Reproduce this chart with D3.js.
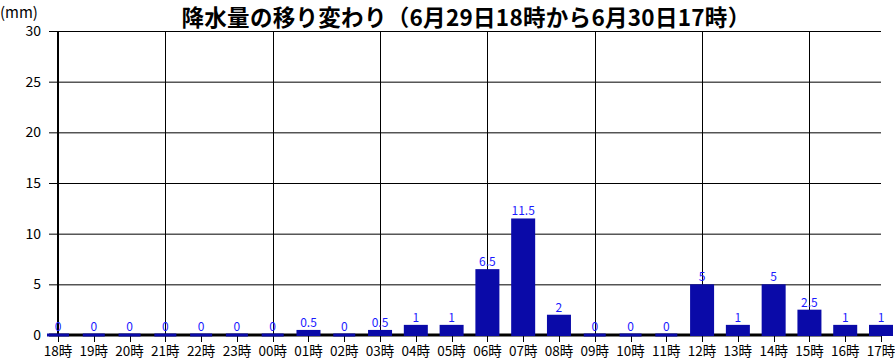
<!DOCTYPE html>
<html><head><meta charset="utf-8">
<script src="https://cdn.jsdelivr.net/npm/d3@7"></script>
<style>
html,body{margin:0;padding:0;background:#fff;}
svg{display:block;}
text{font-family:"Noto Sans CJK JP","Liberation Sans",sans-serif;}
</style></head><body>
<script>
const categories = ["18時","19時","20時","21時","22時","23時","00時","01時","02時","03時","04時","05時","06時","07時","08時","09時","10時","11時","12時","13時","14時","15時","16時","17時"];
const values = [0,0,0,0,0,0,0,0.5,0,0.5,1,1,6.5,11.5,2,0,0,0,5,1,5,2.5,1,1];
const valueLabels = ["0","0","0","0","0","0","0","0.5","0","0.5","1","1","6.5","11.5","2","0","0","0","5","1","5","2.5","1","1"];
const yTicks = [0,5,10,15,20,25,30];
const title = "降水量の移り変わり（6月29日18時から6月30日17時）";
const unitLabel = "(mm)";

const W = 895, H = 359;
const svg = d3.select("body").append("svg").attr("width", W).attr("height", H);

const x = d3.scalePoint().domain(categories).range([58, 881]);
const y = d3.scaleLinear().domain([0, 30]).range([335, 31]);

// title
svg.append("text").attr("x", 466).attr("y", 26).attr("text-anchor", "middle")
  .attr("font-size", 22.5).attr("font-weight", "bold").attr("fill", "#000")
  .attr("letter-spacing", 0.3).text(title);
svg.append("text").attr("x", 0).attr("y", 18).attr("font-size", 15).attr("fill", "#000")
  .attr("font-family", "Liberation Sans, Arial, sans-serif").text(unitLabel);

// horizontal gridlines + y labels
const g = svg.append("g");
yTicks.forEach(t => {
  if (t !== 0) {
    g.append("line").attr("x1", 49).attr("x2", 881).attr("y1", y(t)+0.5).attr("y2", y(t)+0.5)
      .attr("stroke", "#000").attr("stroke-width", 1);
  }
  g.append("text").attr("x", 41).attr("y", y(t)+5).attr("text-anchor", "end")
    .attr("font-size", 14).attr("font-family", "Liberation Sans, Arial, sans-serif").text(t);
});

// vertical gridlines every 3 hours
categories.forEach((c, i) => {
  if (i % 3 === 0 && i > 0) {
    g.append("line").attr("x1", Math.round(x(c))+0.5).attr("x2", Math.round(x(c))+0.5)
      .attr("y1", y(30)).attr("y2", y(0)).attr("stroke", "#000").attr("stroke-width", 1);
  }
});

// axes lines
g.append("line").attr("x1", 58).attr("x2", 58).attr("y1", y(30)).attr("y2", y(0)+1)
  .attr("stroke", "#000").attr("stroke-width", 2);
g.append("line").attr("x1", 49).attr("x2", 881).attr("y1", y(0)).attr("y2", y(0))
  .attr("stroke", "#000").attr("stroke-width", 3);

// x ticks and labels
categories.forEach(c => {
  g.append("line").attr("x1", Math.round(x(c))+0.5).attr("x2", Math.round(x(c))+0.5)
    .attr("y1", y(0)).attr("y2", y(0)+7).attr("stroke", "#000").attr("stroke-width", 1);
  g.append("text").attr("x", x(c)).attr("y", 356).attr("text-anchor", "middle")
    .attr("font-size", 13.5).text(c);
});

// bars
const bw = 24;
svg.append("g").selectAll("rect").data(values).join("rect")
  .attr("x", (d, i) => x(categories[i]) - (d === 0 ? 11 : bw/2))
  .attr("width", (d) => d === 0 ? 22 : bw)
  .attr("y", d => d === 0 ? y(0) - 1.5 : y(d))
  .attr("height", d => d === 0 ? 3 : y(0) - y(d) + 1)
  .attr("fill", "#0a0aa8");

// value labels
svg.append("g").selectAll("text").data(values).join("text")
  .attr("x", (d, i) => x(categories[i]))
  .attr("y", d => y(d) - (d === 0 ? 4 : 3))
  .attr("text-anchor", "middle").attr("font-size", 12)
  .attr("font-family", "Liberation Sans, Arial, sans-serif")
  .attr("fill", "#1a1aff").text((d, i) => valueLabels[i]);
</script>
</body></html>
